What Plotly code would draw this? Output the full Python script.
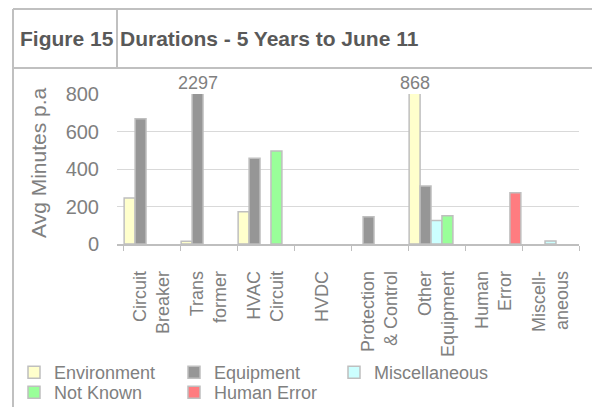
import plotly.graph_objects as go

categories = ["Circuit<br>Breaker", "Trans<br>former", "HVAC<br>Circuit", "HVDC",
              "Protection<br>& Control", "Other<br>Equipment", "Human<br>Error", "Miscell-<br>aneous"]
series_names = ["Environment", "Equipment", "Miscellaneous", "Not Known", "Human Error"]
environment = [245, 15, 172, 0, 0, 868, 0, 0]
equipment = [668, 2297, 457, 0, 146, 309, 0, 0]
miscellaneous = [0, 0, 0, 0, 0, 125, 0, 16]
not_known = [0, 0, 496, 0, 0, 151, 0, 0]
human_error = [0, 0, 0, 0, 0, 0, 274, 0]
colors = ["#FFFFCC", "#969696", "#CCFFFF", "#99FF99", "#FF7C80"]
y_ticks = [0, 200, 400, 600, 800]
y_max = 800
y_title = "Avg Minutes p.a"

series = [environment, equipment, miscellaneous, not_known, human_error]
xs = list(range(len(categories)))

# the page body adds an 8px margin, so the figure is drawn 8px in from the window corner
OFF = 8
W, H = 600 - OFF, 407 - OFF
PL, PR, PT, PB = 117 - OFF, 579 - OFF, 94 - OFF, 244 - OFF
L, R, T, B = PL, W - PR, PT, H - PB
pw, ph = W - L - R, H - T - B
def px(x):  # page pixel -> paper
    return (x - OFF - L) / pw
def py(y):
    return (PB - (y - OFF)) / ph

# legend slot for each series: (left x, top y) in figure pixels
legend_slots = [(6, 346), (166, 346), (326, 346), (6, 366), (166, 366)]
legend_ids = ["legend", "legend2", "legend3", "legend4", "legend5"]

fig = go.Figure()
for name, vals, col, lg in zip(series_names, series, colors, legend_ids):
    fig.add_trace(go.Bar(
        x=xs, y=[v if v > 0 else None for v in vals], name=name, legend=lg,
        marker=dict(color=col, line=dict(color="#BFBFBF", width=1.5)),
        hoverinfo="x+y+name",
    ))

nseries = len(series_names)
bargap = 0.04
slot = (1 - bargap) / nseries
# labels for clipped bars
for si, vals in enumerate(series):
    for ci, v in enumerate(vals):
        if v > y_max:
            xoff = (si - (nseries - 1) / 2) * slot
            fig.add_annotation(x=ci + xoff, y=y_max, xref="x", yref="y", text=str(v),
                               showarrow=False, yanchor="bottom", yshift=-1,
                               font=dict(size=18, color="#808080"))

font_fam = "Arial, Liberation Sans, sans-serif"
frame_col = "#C0C0C0"
shapes = [
    dict(type="line", xref="paper", yref="paper", x0=px(13), x1=px(598), y0=py(9), y1=py(9)),
    dict(type="line", xref="paper", yref="paper", x0=px(13), x1=px(598), y0=py(68), y1=py(68)),
    dict(type="line", xref="paper", yref="paper", x0=px(13), x1=px(13), y0=py(9), y1=py(420)),
    dict(type="line", xref="paper", yref="paper", x0=px(598), x1=px(598), y0=py(9), y1=py(420)),
    dict(type="line", xref="paper", yref="paper", x0=px(117), x1=px(117), y0=py(9), y1=py(68)),
]
for s in shapes:
    s["line"] = dict(color=frame_col, width=2)

fig.add_annotation(x=px(18), y=py(38), xref="paper", yref="paper", text="<b>Figure 15</b>",
                   showarrow=False, xanchor="left", yanchor="middle",
                   font=dict(size=21, color="#595959"))
fig.add_annotation(x=px(118), y=py(38), xref="paper", yref="paper",
                   text="<b>Durations - 5 Years to June 11</b>",
                   showarrow=False, xanchor="left", yanchor="middle",
                   font=dict(size=21, color="#595959"))
# y-axis title
fig.add_annotation(x=px(38), y=py(163), xref="paper", yref="paper", text=y_title,
                   showarrow=False, textangle=-90, xanchor="center", yanchor="middle",
                   font=dict(size=21, color="#808080"))

legends = {}
for lg, (lx, ly) in zip(legend_ids, legend_slots):
    legends[lg] = dict(orientation="v", xref="container", yref="container",
                       x=lx / W, y=1 - ly / H, xanchor="left", yanchor="top",
                       itemwidth=30, font=dict(size=18, color="#808080"),
                       tracegroupgap=0, bgcolor="rgba(0,0,0,0)")

fig.update_layout(
    width=W, height=H,
    margin=dict(l=L, r=R, t=T, b=B, pad=0, autoexpand=False),
    paper_bgcolor="white", plot_bgcolor="white",
    font=dict(family=font_fam, color="#808080", size=18),
    barmode="group", bargap=bargap, bargroupgap=0,
    shapes=shapes,
    showlegend=True,
    xaxis=dict(
        automargin=False,
        range=[-0.5 - 6 / 57, len(categories) - 0.5],
        tickvals=xs, ticktext=categories, tickangle=-90,
        ticks="", ticklabelstandoff=18,
        tickfont=dict(size=18, color="#808080"),
        showline=True, linecolor="#BFBFBF", linewidth=1.5,
        showgrid=False, zeroline=False,
        minor=dict(tick0=-0.5, dtick=1, ticks="outside", ticklen=5,
                   tickcolor="#BFBFBF", tickwidth=1, showgrid=False),
    ),
    yaxis=dict(
        automargin=False,
        range=[0, y_max], tickvals=y_ticks,
        showgrid=True, gridcolor="#D9D9D9", gridwidth=1,
        zeroline=False, showline=False, ticks="",
        ticklabelstandoff=17,
        tickfont=dict(size=20, color="#808080"),
    ),
    **legends,
)

fig.write_html("out.html")
